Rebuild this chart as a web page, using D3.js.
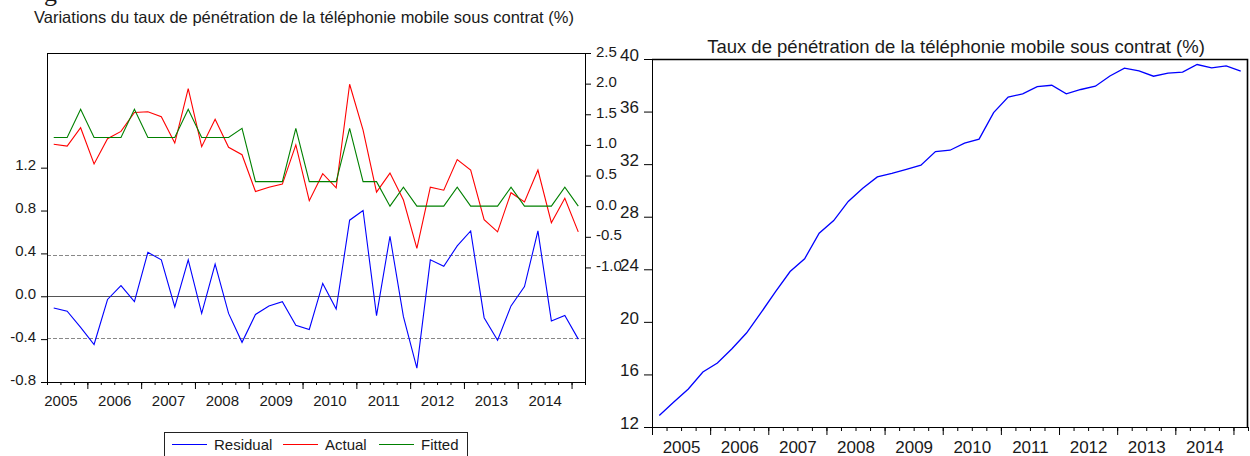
<!DOCTYPE html>
<html>
<head>
<meta charset="utf-8">
<script src="https://cdn.jsdelivr.net/npm/d3@7"></script>
<style>
  body { margin: 0; background: #fff; }
  svg text { font-family: "Liberation Sans", Arial, sans-serif; fill: #1a1a1a; }
</style>
</head>
<body>
<svg id="chart" width="1250" height="456"></svg>
<script>
// quarterly changes, 2005Q2 .. 2015Q1 (40 obs)
var actual = [1.01, 0.98, 1.28, 0.69, 1.10, 1.22, 1.53, 1.54, 1.46, 1.03,
              1.92, 0.97, 1.42, 0.96, 0.84, 0.24, 0.31, 0.36, 1.00, 0.09,
              0.53, 0.30, 1.99, 1.24, 0.23, 0.54, 0.10, -0.69, 0.31, 0.26,
              0.76, 0.59, -0.22, -0.42, 0.22, 0.07, 0.59, -0.27, 0.13, -0.42];
var fitted = [1.12, 1.12, 1.58, 1.12, 1.12, 1.12, 1.58, 1.12, 1.12, 1.12,
              1.58, 1.12, 1.12, 1.12, 1.27, 0.40, 0.40, 0.40, 1.27, 0.40,
              0.40, 0.40, 1.27, 0.40, 0.40, 0.00, 0.31, 0.00, 0.00, 0.00,
              0.31, 0.00, 0.00, 0.00, 0.31, 0.00, 0.00, 0.00, 0.31, 0.00];
var residual = [-0.11, -0.14, -0.29, -0.45, -0.03, 0.10, -0.05, 0.41, 0.34, -0.10,
                0.34, -0.16, 0.30, -0.16, -0.43, -0.17, -0.09, -0.05, -0.27, -0.31,
                0.12, -0.12, 0.71, 0.80, -0.18, 0.56, -0.19, -0.67, 0.34, 0.28,
                0.47, 0.61, -0.20, -0.41, -0.09, 0.09, 0.61, -0.23, -0.18, -0.40];
// level, 2005Q1 .. 2015Q1 (41 obs)
var level = [12.88, 13.90, 14.89, 16.18, 16.87, 17.95, 19.15, 20.70, 22.30, 23.83,
             24.80, 26.75, 27.71, 29.16, 30.17, 31.03, 31.30, 31.60, 31.92, 32.96,
             33.06, 33.60, 33.90, 35.92, 37.10, 37.35, 37.90, 38.00, 37.35, 37.68,
             37.93, 38.71, 39.30, 39.10, 38.69, 38.92, 39.00, 39.58, 39.32, 39.47,
             39.07];
var years = [2005, 2006, 2007, 2008, 2009, 2010, 2011, 2012, 2013, 2014];
var residTicks = [-0.8, -0.4, 0.0, 0.4, 0.8, 1.2];
var actualTicks = [-1.0, -0.5, 0.0, 0.5, 1.0, 1.5, 2.0, 2.5];
var levelTicks = [12, 16, 20, 24, 28, 32, 36, 40];
var seBand = 0.385;
var series = ["Residual", "Actual", "Fitted"];
var colors = ["#0000ff", "#ff0000", "#008000"];

var svg = d3.select("#chart");
var fmt = function (d) { return d.toFixed(1); };

// clipped heading from the page above
svg.append("text").attr("x", 44).attr("y", 1)
  .style("font-family", "'Liberation Serif', 'Times New Roman', serif")
  .style("font-size", "26px").text("g");

// ---------- left chart: residual / actual / fitted ----------
var L = {left: 47, right: 585, top: 53, bottom: 382};

svg.append("text").attr("x", 34).attr("y", 23)
  .style("font-size", "16.5px")
  .text("Variations du taux de pénétration de la téléphonie mobile sous contrat (%)");

var xL = d3.scaleLinear().domain([0, 40]).range([L.left, L.right]);
var yRes = d3.scaleLinear().domain([-0.8, 2.27]).range([L.bottom, L.top]);
var yAct = d3.scaleLinear().domain([-2.87, 2.5]).range([L.bottom, L.top]);

var gl = svg.append("g");

// reference lines of the residual
gl.append("line").attr("x1", L.left).attr("x2", L.right)
  .attr("y1", Math.round(yRes(0)) + 0.5).attr("y2", Math.round(yRes(0)) + 0.5)
  .attr("stroke", "#555").attr("stroke-width", 1.2);
[seBand, -seBand].forEach(function (v) {
  gl.append("line").attr("x1", L.left).attr("x2", L.right)
    .attr("y1", Math.round(yRes(v)) + 0.5).attr("y2", Math.round(yRes(v)) + 0.5)
    .attr("stroke", "#888").attr("stroke-dasharray", "4,2");
});

gl.append("line").attr("x1", L.left).attr("x2", L.right + 0.5)
  .attr("y1", L.top + 0.5).attr("y2", L.top + 0.5).attr("stroke", "#000");

var lineRes = d3.line().x(function (d, i) { return xL(i + 0.5); }).y(function (d) { return yRes(d); });
var lineAct = d3.line().x(function (d, i) { return xL(i + 0.5); }).y(function (d) { return yAct(d); });

gl.append("path").datum(residual).attr("d", lineRes)
  .attr("fill", "none").attr("stroke", colors[0]).attr("stroke-width", 1.1);
gl.append("path").datum(actual).attr("d", lineAct)
  .attr("fill", "none").attr("stroke", colors[1]).attr("stroke-width", 1.1);
gl.append("path").datum(fitted).attr("d", lineAct)
  .attr("fill", "none").attr("stroke", colors[2]).attr("stroke-width", 1.1);

// axes
var axL = gl.append("g").attr("transform", "translate(" + L.left + ",0)")
  .call(d3.axisLeft(yRes).tickValues(residTicks).tickFormat(fmt).tickSize(6).tickSizeOuter(0).tickPadding(5));
axL.selectAll("text").attr("dy", "0.15em");
var axR = gl.append("g").attr("transform", "translate(" + L.right + ",0)")
  .call(d3.axisRight(yAct).tickValues(actualTicks).tickFormat(fmt).tickSize(6).tickSizeOuter(0).tickPadding(5));
axR.selectAll("text").attr("dy", "0.2em");

gl.append("g").attr("transform", "translate(0," + L.bottom + ")")
  .call(d3.axisBottom(xL).tickValues(d3.range(0, 41)).tickFormat("").tickSize(3).tickSizeOuter(0));
gl.append("g").attr("transform", "translate(0," + L.bottom + ")")
  .call(d3.axisBottom(xL).tickValues(years.map(function (y, i) { return 3 + 4 * i; })).tickFormat("").tickSize(7).tickSizeOuter(0));
gl.append("g").attr("transform", "translate(0," + L.bottom + ")")
  .call(d3.axisBottom(xL).tickValues(years.map(function (y, i) { return 1 + 4 * i; }))
    .tickFormat(function (d, i) { return years[i]; }).tickSize(0).tickPadding(13))
  .call(function (g) { g.select(".domain").remove(); });

gl.selectAll(".tick text").style("font-size", "15px");
gl.selectAll(".domain, .tick line").attr("stroke", "#000");

// legend
var lg = svg.append("g").attr("transform", "translate(164,432)");
lg.append("rect").attr("x", 0.5).attr("y", 0.5).attr("width", 303).attr("height", 40)
  .attr("fill", "none").attr("stroke", "#222");
var legX = [8, 119, 215];
series.forEach(function (s, i) {
  lg.append("line").attr("x1", legX[i]).attr("x2", legX[i] + 35)
    .attr("y1", 12.5).attr("y2", 12.5).attr("stroke", colors[i]).attr("stroke-width", 1.2);
  lg.append("text").attr("x", legX[i] + 42).attr("y", 17.5)
    .style("font-size", "15px").text(s);
});

// ---------- right chart: level ----------
var R = {left: 652, right: 1248, top: 59, bottom: 427};

svg.append("text").attr("x", 956).attr("y", 53).attr("text-anchor", "middle")
  .style("font-size", "18.5px")
  .text("Taux de pénétration de la téléphonie mobile sous contrat (%)");

var xR = d3.scaleLinear().domain([0, 41]).range([R.left, R.right]);
var yLev = d3.scaleLinear().domain([12, 40]).range([R.bottom, R.top]);

var gr = svg.append("g");
gr.append("path")
  .attr("d", "M" + R.left + "," + (R.top + 0.5) + "H" + (R.right - 0.5) + "V" + R.bottom)
  .attr("fill", "none").attr("stroke", "#000").attr("stroke-width", 1.6);

gr.append("path").datum(level)
  .attr("d", d3.line().x(function (d, i) { return xR(i + 0.5); }).y(function (d) { return yLev(d); }))
  .attr("fill", "none").attr("stroke", colors[0]).attr("stroke-width", 1.3);

var axLev = gr.append("g").attr("transform", "translate(" + R.left + ",0)")
  .call(d3.axisLeft(yLev).tickValues(levelTicks).tickSize(8).tickSizeOuter(0).tickPadding(5));
axLev.selectAll("text").attr("dy", "0.07em");

gr.append("g").attr("transform", "translate(0," + R.bottom + ")")
  .call(d3.axisBottom(xR).tickValues(d3.range(0, 42)).tickFormat("").tickSize(4).tickSizeOuter(0));
gr.append("g").attr("transform", "translate(0," + R.bottom + ")")
  .call(d3.axisBottom(xR).tickValues(d3.range(0, 41, 4)).tickFormat("").tickSize(8).tickSizeOuter(0));
gr.append("g").attr("transform", "translate(0," + R.bottom + ")")
  .call(d3.axisBottom(xR).tickValues(years.map(function (y, i) { return 2 + 4 * i; }))
    .tickFormat(function (d, i) { return years[i]; }).tickSize(0).tickPadding(14))
  .call(function (g) { g.select(".domain").remove(); });

gr.selectAll(".tick text").style("font-size", "17px");
gr.selectAll(".domain, .tick line").attr("stroke", "#000");
</script>
</body>
</html>
